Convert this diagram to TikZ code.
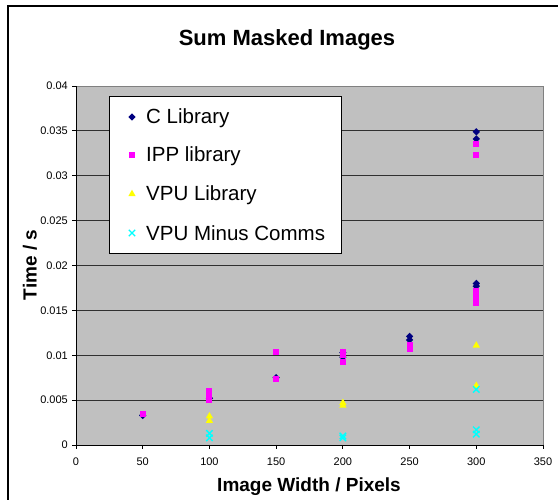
\documentclass[tikz,border=0pt]{standalone}
\usepackage{fontspec}
\setmainfont{Liberation Sans}
\usetikzlibrary{shapes.geometric,shapes.misc}

\definecolor{plotbg}{HTML}{C0C0C0}
\definecolor{gridc}{HTML}{303030}
\definecolor{edgec}{HTML}{808080}
\definecolor{cnavy}{HTML}{000080}
\definecolor{cmag}{HTML}{FF00FF}
\definecolor{cyel}{HTML}{FFFF00}
\definecolor{ccyan}{HTML}{00FFFF}

\tikzset{
  cmark/.style={diamond, fill=cnavy, minimum size=7.5pt, inner sep=0pt},
  ippmark/.style={rectangle, fill=cmag, minimum size=6pt, inner sep=0pt},
  vpumark/.style={regular polygon, regular polygon sides=3, fill=cyel, minimum size=8.5pt, inner sep=0pt},
  commsmark/.style={cross out, draw=ccyan, line width=1.4pt, minimum size=5pt, inner sep=0pt},
  ticklab/.style={font=\fontsize{11}{13}\selectfont, inner sep=0pt},
  axtitle/.style={font=\fontsize{19}{22}\selectfont\bfseries, inner sep=0pt},
  legtext/.style={font=\fontsize{20.5}{24}\selectfont, anchor=base west, inner sep=0pt},
}

\begin{document}
\begin{tikzpicture}[x=1pt,y=1pt]
\useasboundingbox (0,0) rectangle (558,499);
\fill[white] (0,0) rectangle (558,499);

% chart frame (runs past the right and bottom edges)
\begin{scope}
  \clip (0,0) rectangle (558,499);
  \draw[black, line width=1.2pt] (8,-20) -- (8,493) -- (580,493);
\end{scope}

% title
\node[font=\fontsize{22}{26}\selectfont\bfseries, inner sep=0pt] (title) at (287,459) {Sum Masked Images};

% plot area
\begin{scope}[shift={(76pt,54pt)}, x=1.3343pt, y=8975pt]
  \fill[plotbg] (0,0) rectangle (350,0.04);
  \foreach \v in {0.005,0.01,0.015,0.02,0.025,0.03,0.035}
    \draw[gridc, line width=0.9pt] (0,\v) -- (350,\v);
  \draw[edgec, line width=0.9pt] (0,0.04) -- (350,0.04) -- (350,0);
  \draw[black, line width=0.9pt] (0,0.04) -- (0,0) -- (350,0);
  % y ticks and labels
  \foreach \v/\l in {0/0,0.005/0.005,0.01/0.01,0.015/0.015,0.02/0.02,0.025/0.025,0.03/0.03,0.035/0.035,0.04/0.04} {
    \draw[black, line width=0.9pt] (0,\v) -- ++(-4pt,0);
    \node[ticklab, anchor=east] at ([xshift=-8pt]0,\v) {\l};
  }
  % x ticks and labels
  \foreach \u in {0,50,...,350} {
    \draw[black, line width=0.9pt] (\u,0) -- ++(0,-4pt);
    \node[ticklab] at ([yshift=-17pt]\u,0) {\u};
  }

  % C Library
  \foreach \px/\py in {50/0.0033,100/0.0052,150/0.0075,200/0.0103,200/0.0098,
                       250/0.0121,250/0.0117,300/0.0349,300/0.0341,300/0.0180,300/0.0177}
    \node[cmark] at (\px,\py) {};
  % IPP library
  \foreach \px/\py in {50/0.00345,100/0.0060,100/0.0055,100/0.0050,150/0.0104,150/0.0074,
                       200/0.0104,200/0.0100,200/0.0093,250/0.0111,250/0.0107,
                       300/0.0335,300/0.0323,300/0.0172,300/0.0167,300/0.0162,300/0.0158}
    \node[ippmark] at (\px,\py) {};
  % VPU Library
  \foreach \px/\py in {100/0.0032,100/0.0027,200/0.0047,200/0.0044,300/0.0111,300/0.0066}
    \node[vpumark] at (\px,\py) {};
  % VPU Minus Comms
  \foreach \px/\py in {100/0.0013,100/0.0008,200/0.0010,200/0.0008,300/0.0062,300/0.0017,300/0.0012}
    \node[commsmark] at (\px,\py) {};
\end{scope}

% axis titles
\node[axtitle] (xlab) at (309,12.5) {Image Width / Pixels};
\node[axtitle, rotate=90] (ylab) at (30,234) {Time / s};

% legend
\draw[black, fill=white, line width=0.9pt] (109.5,246) rectangle (341.5,403);
\node[cmark] (lc) at (132,382) {};
\node[ippmark] (li) at (132,344) {};
\node[vpumark] (lv) at (132,305) {};
\node[commsmark] (lm) at (132,266) {};
\node[legtext] at (146,375) {C Library};
\node[legtext] at (146,337) {IPP library};
\node[legtext] at (146,298) {VPU Library};
\node[legtext] at (146,258) {VPU Minus Comms};
\end{tikzpicture}
\end{document}
